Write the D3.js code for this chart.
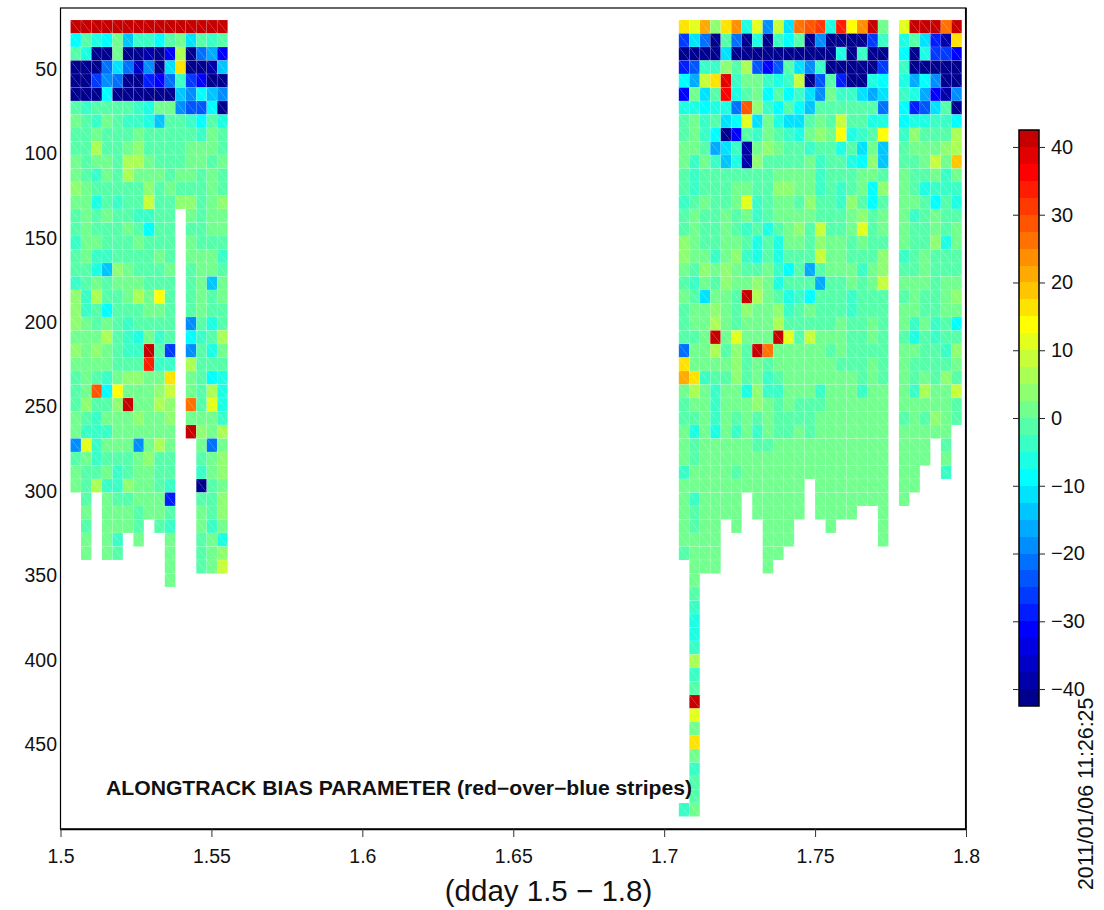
<!DOCTYPE html>
<html><head><meta charset="utf-8">
<style>html,body{margin:0;padding:0;background:#fff}svg{display:block}text{font-family:"Liberation Sans",Arial,sans-serif;fill:#111}</style>
<script src="https://cdnjs.cloudflare.com/ajax/libs/d3/7.8.5/d3.min.js"></script>
</head><body><svg id="c" width="1104" height="910"></svg>
<script>
const _ = undefined;
const xTicks = [1.5,1.55,1.6,1.65,1.7,1.75,1.8];
const yTicks = [50,100,150,200,250,300,350,400,450];
const barTicks = [-40,-30,-20,-10,0,10,20,30,40];
const title = "ALONGTRACK BIAS PARAMETER (red\u2212over\u2212blue stripes)";
const xLabel = "(dday 1.5 \u2212 1.8)";
const stamp = "2011/01/06 11:26:25";
const binDays = 5/1440, binDepth = 8, firstDepth = 21;
const leftStart = 1.50331, rightStart = 1.70486;
const jet = ["#00008E","#0000AA","#0000C6","#0000E3","#0000FF","#001CFF","#0039FF","#0055FF","#0071FF","#008EFF","#00AAFF","#00C6FF","#00E3FF","#00FFFF","#1CFFE3","#39FFC6","#55FFAA","#71FF8E","#8EFF71","#AAFF55","#C6FF39","#E3FF1C","#FFFF00","#FFE300","#FFC600","#FFAA00","#FF8E00","#FF7100","#FF5500","#FF3900","#FF1C00","#FF0000","#E30000","#C60000"];

const leftRows = [
[41,41,41,41,41,41,41,41,41,41,41,41,41,41,41],
[-9,-1,-6,-9,1,-14,-4,-4,-9,-1,1,-11,-1,-4,-1],
[-1,-7,-41,-41,1,-41,-41,-39,-41,-31,6,-41,-21,-16,-31],
[-41,-41,-41,-21,-11,-21,-36,-19,-41,-11,16,-41,-41,-39,-14],
[-41,-41,-26,-19,-21,-41,-41,-29,-31,-21,-4,-26,-31,-41,-41],
[-41,-41,-41,-9,-41,-41,-41,-41,-41,-41,-14,-19,-9,-14,-19],
[-1,-4,-1,-1,-1,-1,-4,-6,1,1,-19,-24,-24,-9,-41],
[1,-1,-4,1,-1,-4,-4,-6,-14,-1,-1,-4,-9,-1,-7],
[-1,-1,1,-1,-1,-1,1,-1,-1,-1,-1,-1,-4,1,-1],
[-1,-1,6,-1,-1,1,4,-1,-1,-1,-1,1,1,1,-1],
[1,-1,1,1,-1,6,6,1,-1,-1,-1,1,1,-1,1],
[1,-1,-4,1,-1,6,1,1,1,-1,1,1,-1,1,-1],
[4,1,-1,-1,-1,-1,-1,4,-1,1,-1,-1,-1,1,-1],
[1,1,-6,-1,-4,-1,-1,9,-1,-1,4,4,-1,1,4],
[-1,1,-1,1,-1,-1,-4,-4,-1,-1,_,1,-1,1,1],
[-1,1,-1,-1,-1,1,-1,-9,-1,-1,_,-1,-1,1,1],
[-4,1,1,-1,-1,-1,1,-1,-1,-1,_,1,-1,-1,-1],
[-1,1,-4,-4,-1,-1,-1,-1,1,-1,_,1,1,1,-4],
[-1,-1,-6,-14,4,1,-1,-1,-1,1,_,-1,1,1,-1],
[-4,-1,1,-1,1,1,1,-1,-1,-1,_,-1,1,-14,1],
[4,-4,6,-1,-1,1,6,1,14,-1,_,-1,1,-1,1],
[4,-4,-1,-9,-1,-1,-1,1,1,-1,_,-1,1,-1,-1],
[4,1,-1,1,-1,-4,-1,-1,-1,-1,_,-19,-1,-6,-1],
[1,1,1,6,-1,-4,-6,1,-4,-1,_,-9,-4,-1,6],
[4,1,4,1,-1,-4,-4,41,-1,-26,_,-19,-1,-6,1],
[1,1,1,1,-1,-1,-1,34,-4,-4,_,6,-1,-1,-1],
[-1,1,-1,-4,1,4,4,1,1,16,_,1,-1,-9,-6],
[-1,1,29,-9,14,1,1,1,4,9,_,1,-1,6,-6],
[-1,4,-1,-1,4,41,1,1,6,4,_,26,-1,11,-6],
[1,-1,-4,1,1,1,4,1,1,4,_,1,1,1,-4],
[1,-4,-4,-4,1,1,1,1,1,1,_,41,4,1,6],
[-19,11,-4,1,1,1,-19,1,6,1,_,_,1,-21,1],
[-1,1,-4,-1,-1,-1,1,4,-1,-1,_,_,-1,1,4],
[1,-1,-1,1,-4,-1,1,1,-1,-1,_,_,-4,1,4],
[1,-1,6,-4,-4,4,1,1,-1,-4,_,_,-41,-1,1],
[_,-1,_,1,-1,-1,1,1,1,-29,_,_,-1,-1,4],
[_,1,_,1,1,1,-1,1,1,-1,_,_,1,-1,4],
[_,-1,_,1,1,1,-1,_,-1,-4,_,_,1,-4,1],
[_,1,_,1,-4,_,1,_,_,1,_,_,-1,1,-6],
[_,1,_,1,-1,_,_,_,_,1,_,_,-1,1,4],
[_,_,_,_,_,_,_,_,_,1,_,_,-1,1,9],
[_,_,_,_,_,_,_,_,_,1]
];

const rightRows = [
[16,11,21,4,16,24,-6,11,-19,9,-11,26,29,31,-6,34,14,24,41,1,_,11,41,41,41,26,41],
[-26,-11,-21,-41,-1,-21,-41,-6,-41,-4,-9,-1,-41,-19,-41,-41,-41,-41,-26,-4,_,-6,-1,-11,-29,-39,16],
[-41,-41,-41,-41,-11,-41,-41,-41,-41,-41,-41,-41,-41,-41,-41,-6,-41,-4,-41,-41,_,-9,-41,-6,-26,-26,-31],
[-29,-24,-4,-4,4,-1,6,-24,-31,-24,-1,-11,-19,-4,-41,-41,-41,-41,-41,-26,_,-4,-41,-41,-41,-41,-41],
[-9,-16,9,16,39,-4,1,1,-4,-6,-4,9,-41,-24,-1,-29,-41,-41,-6,-9,_,-6,-16,-9,-19,-41,-41],
[-31,1,-11,-1,36,-6,-1,1,-9,-1,-9,-4,-11,-19,1,-4,-4,-11,-16,-11,_,-4,-6,-16,-31,-39,-19],
[-6,-6,-9,-6,-6,-21,29,4,-4,-9,-1,-9,-14,-1,-1,-1,-1,-1,-1,-21,_,-9,-29,-24,-11,-1,-41],
[-1,1,-4,-1,-11,-9,11,-11,1,-6,-11,-11,-1,1,-1,9,-1,-1,-6,-6,_,-9,-6,-6,-4,-4,-9],
[-1,1,-4,-9,-41,-31,-1,-4,1,-1,-4,-6,1,4,1,14,-6,-4,-1,14,_,-4,4,-1,-1,-1,6],
[1,1,-1,-16,-11,-4,-39,1,4,1,-1,-1,-4,-1,-1,-6,-1,-11,1,-14,_,-1,1,1,1,4,6],
[1,-4,1,-4,-14,-6,-39,4,-1,-1,-1,-1,1,-4,-1,-1,-6,-9,4,-14,_,-1,-1,1,9,1,19],
[-1,-4,-1,-1,-1,-1,-1,-1,-1,1,1,1,1,-4,-1,-1,-1,1,1,-1,_,1,-1,-1,1,-4,1],
[-1,-4,-1,-1,-1,1,1,-1,-1,4,4,1,1,-4,-1,-4,-1,1,-9,4,_,1,-1,-6,-4,-4,-4],
[-4,-1,1,-1,-1,1,11,-4,-1,1,1,-1,4,-1,-1,-4,4,-1,-9,-1,_,1,1,-1,-9,-1,-6],
[-1,1,-1,-1,1,-1,1,-4,-1,1,1,1,1,-1,-1,-1,1,4,-1,1,_,1,-4,-1,1,-1,-1],
[-1,1,-1,-1,1,-1,-4,-1,-6,-1,1,4,-1,9,-1,-1,1,11,-1,1,_,1,-1,-1,1,-1,1],
[4,1,-1,-1,1,1,-1,-6,-1,-6,1,1,-1,4,1,1,-1,1,-1,-1,_,1,-1,-1,4,-6,1],
[4,1,1,-4,1,4,-4,-6,-1,-6,-1,-1,-1,9,1,1,-1,-1,-1,4,_,-4,-1,1,-1,-1,-1],
[1,-1,4,1,4,1,-1,-1,1,-4,-9,-1,-16,-1,1,1,1,-4,1,4,_,-1,-1,1,-1,-1,-1],
[-1,-4,1,-1,4,1,1,4,1,-6,-1,-1,-1,-16,-1,-1,1,-1,1,9,_,1,1,1,-1,1,1],
[1,-1,-11,1,1,-1,41,6,1,-1,-6,-4,-9,-1,-1,-1,-4,-1,-1,-1,_,-1,1,-1,-1,1,4],
[-1,1,1,4,1,-1,4,1,1,4,-4,-1,1,-1,-1,-1,-4,-1,-1,-1,_,1,1,-1,-1,1,1],
[-1,1,1,6,1,-1,1,1,1,6,-1,-1,-1,-1,-1,1,-1,-1,1,-1,_,1,-4,1,-4,-1,-9],
[-1,-1,1,41,1,11,1,1,1,41,11,-1,9,1,1,1,-1,-1,1,-1,_,-1,-6,-1,-4,-1,-1],
[-21,1,1,6,-1,4,-1,41,26,1,1,1,1,1,-1,1,-1,-1,-1,-1,_,1,1,-1,-1,-4,4],
[16,1,1,1,1,4,-1,1,-1,1,1,1,1,1,1,-1,-1,-1,1,-1,_,1,-1,-1,-1,-1,1],
[21,16,-4,-1,-1,4,-1,1,-4,-1,1,1,1,1,1,1,1,-1,1,-1,_,1,-1,1,-1,4,-1],
[1,6,1,-4,1,1,-6,4,-4,-4,1,1,1,-4,1,1,1,-4,1,1,_,1,-4,6,1,1,9],
[-1,1,1,-4,1,1,1,4,1,-1,1,-1,-1,-1,1,1,1,1,1,1,_,1,1,1,1,1,-1],
[-1,-1,1,-4,1,-1,1,-1,1,-1,-1,-1,-1,1,1,1,1,1,1,1,_,-1,1,-1,4,1,-1],
[1,-7,1,-7,1,-4,1,-4,1,-1,-1,1,-1,1,1,1,1,1,1,1,_,1,1,1,1,1],
[1,-1,1,1,1,1,1,-1,-1,1,1,1,1,1,1,1,1,1,1,1,_,1,1,1,_,-1],
[1,-1,1,1,1,1,1,1,1,1,1,1,1,1,1,1,1,1,1,1,_,1,1,1,_,1],
[-4,1,1,1,1,-1,1,1,1,1,1,1,1,1,1,1,1,1,1,1,_,1,1,_,_,-4],
[1,1,1,1,1,1,1,1,1,1,1,1,_,1,1,1,1,1,1,1,_,1,1],
[1,-4,1,1,1,1,_,1,1,1,1,1,_,1,1,1,1,1,1,1,_,1],
[1,-1,1,1,1,1,_,1,1,1,1,1,_,1,1,1,1,_,_,1],
[1,-1,1,1,_,1,_,_,1,1,1,_,_,_,1,_,_,_,_,1],
[1,1,1,1,_,_,_,_,1,1,1,_,_,_,_,_,_,_,_,1],
[-1,1,1,1,_,_,_,_,1,1],
[_,1,1,1,_,_,_,_,1],
[_,1],[_,-1],[_,-4],[_,-6],[_,-6],[_,-4],[_,6],[_,-4],[_,-1],[_,41],[_,11],[_,1],[_,16],[_,1],[_,-4],[_,-1],[_,-1],[-4,1]
];

const svg = d3.select("#c");
const x = d3.scaleLinear().domain([1.5,1.8]).range([60.5,966]);
const y = d3.scaleLinear().domain([13.9,500.4]).range([8,829]);
const color = d3.scaleThreshold().domain(d3.range(-40,42.5,2.5)).range(jet);

function cells(rows, start){
  const out = [];
  rows.forEach((row,r)=>row.forEach((v,k)=>{ if(v!==undefined) out.push({v,
    x0:x(start+k*binDays), x1:x(start+(k+1)*binDays),
    y0:y(firstDepth+r*binDepth), y1:y(firstDepth+(r+1)*binDepth)}); }));
  return out;
}
const all = cells(leftRows,leftStart).concat(cells(rightRows,rightStart));
const tri = svg.append("g").attr("class","cells");
all.forEach(c=>{
  tri.append("path").attr("fill",color(c.v)).attr("d",`M${c.x0},${c.y0}L${c.x1},${c.y0}L${c.x1},${c.y1}Z`);
  tri.append("path").attr("fill",color(c.v)).attr("d",`M${c.x0},${c.y0}L${c.x0},${c.y1}L${c.x1},${c.y1}Z`);
  tri.append("rect").attr("x",c.x0).attr("y",c.y0).attr("width",c.x1-c.x0).attr("height",c.y1-c.y0)
    .attr("fill","none").attr("stroke","#fff").attr("stroke-opacity",0.2).attr("stroke-width",0.6);
});

// frame
svg.append("rect").attr("x",60.5).attr("y",8).attr("width",905.5).attr("height",821)
  .attr("fill","none").attr("stroke","#000").attr("stroke-width",1.2);
svg.append("path").attr("d","M60,829.3H966M965.8,8V829.3").attr("fill","none").attr("stroke","#000").attr("stroke-width",1.7);

const fmt = d=>String(+d.toFixed(2));
const ax = svg.append("g").attr("transform","translate(0,829)")
  .call(d3.axisBottom(x).tickValues(xTicks).tickFormat(fmt).tickSize(8).tickPadding(12));
ax.select(".domain").remove();
ax.selectAll("line").attr("stroke","#333");
ax.selectAll("text").attr("font-size",19.5).attr("font-family",'"Liberation Sans"');

const ay = svg.append("g").attr("transform","translate(60.5,0)")
  .call(d3.axisLeft(y).tickValues(yTicks).tickSize(0).tickPadding(3.5));
ay.select(".domain").remove();
ay.selectAll("text").attr("font-size",19.5).attr("font-family",'"Liberation Sans"').attr("dy","0.33em");

// colorbar
const by = d3.scaleLinear().domain([-42.5,42.5]).range([706,130]);
const edges = [-42.5].concat(color.domain());
svg.append("g").selectAll("rect").data(jet).join("rect")
  .attr("x",1019).attr("width",20)
  .attr("y",(d,i)=>by(edges[i]+2.5)).attr("height",(d,i)=>by(edges[i])-by(edges[i]+2.5))
  .attr("fill",d=>d).attr("shape-rendering","crispEdges");
svg.append("rect").attr("x",1019).attr("y",130).attr("width",20).attr("height",576)
  .attr("fill","none").attr("stroke","#000").attr("stroke-width",1.5);
const br = svg.append("g").attr("transform","translate(1039,0)")
  .call(d3.axisRight(by).tickValues(barTicks).tickSize(6).tickPadding(6));
br.select(".domain").remove();
br.selectAll("line").attr("stroke","#222");
br.selectAll("text").attr("font-size",20).attr("font-family",'"Liberation Sans"');
const bl = svg.append("g").attr("transform","translate(1019,0)")
  .call(d3.axisLeft(by).tickValues(barTicks).tickSize(6).tickFormat(""));
bl.select(".domain").remove();
bl.selectAll("line").attr("stroke","#222");

svg.append("text").attr("x",106).attr("y",795).attr("font-size",19.5).attr("font-weight","bold")
  .attr("textLength",586).attr("lengthAdjust","spacingAndGlyphs").text(title);
svg.append("text").attr("x",548.5).attr("y",901).attr("text-anchor","middle").attr("font-size",29.5).text(xLabel);
svg.append("text").attr("transform","translate(1093,890) rotate(-90)").attr("font-size",21.3).text(stamp);
</script></body></html>
